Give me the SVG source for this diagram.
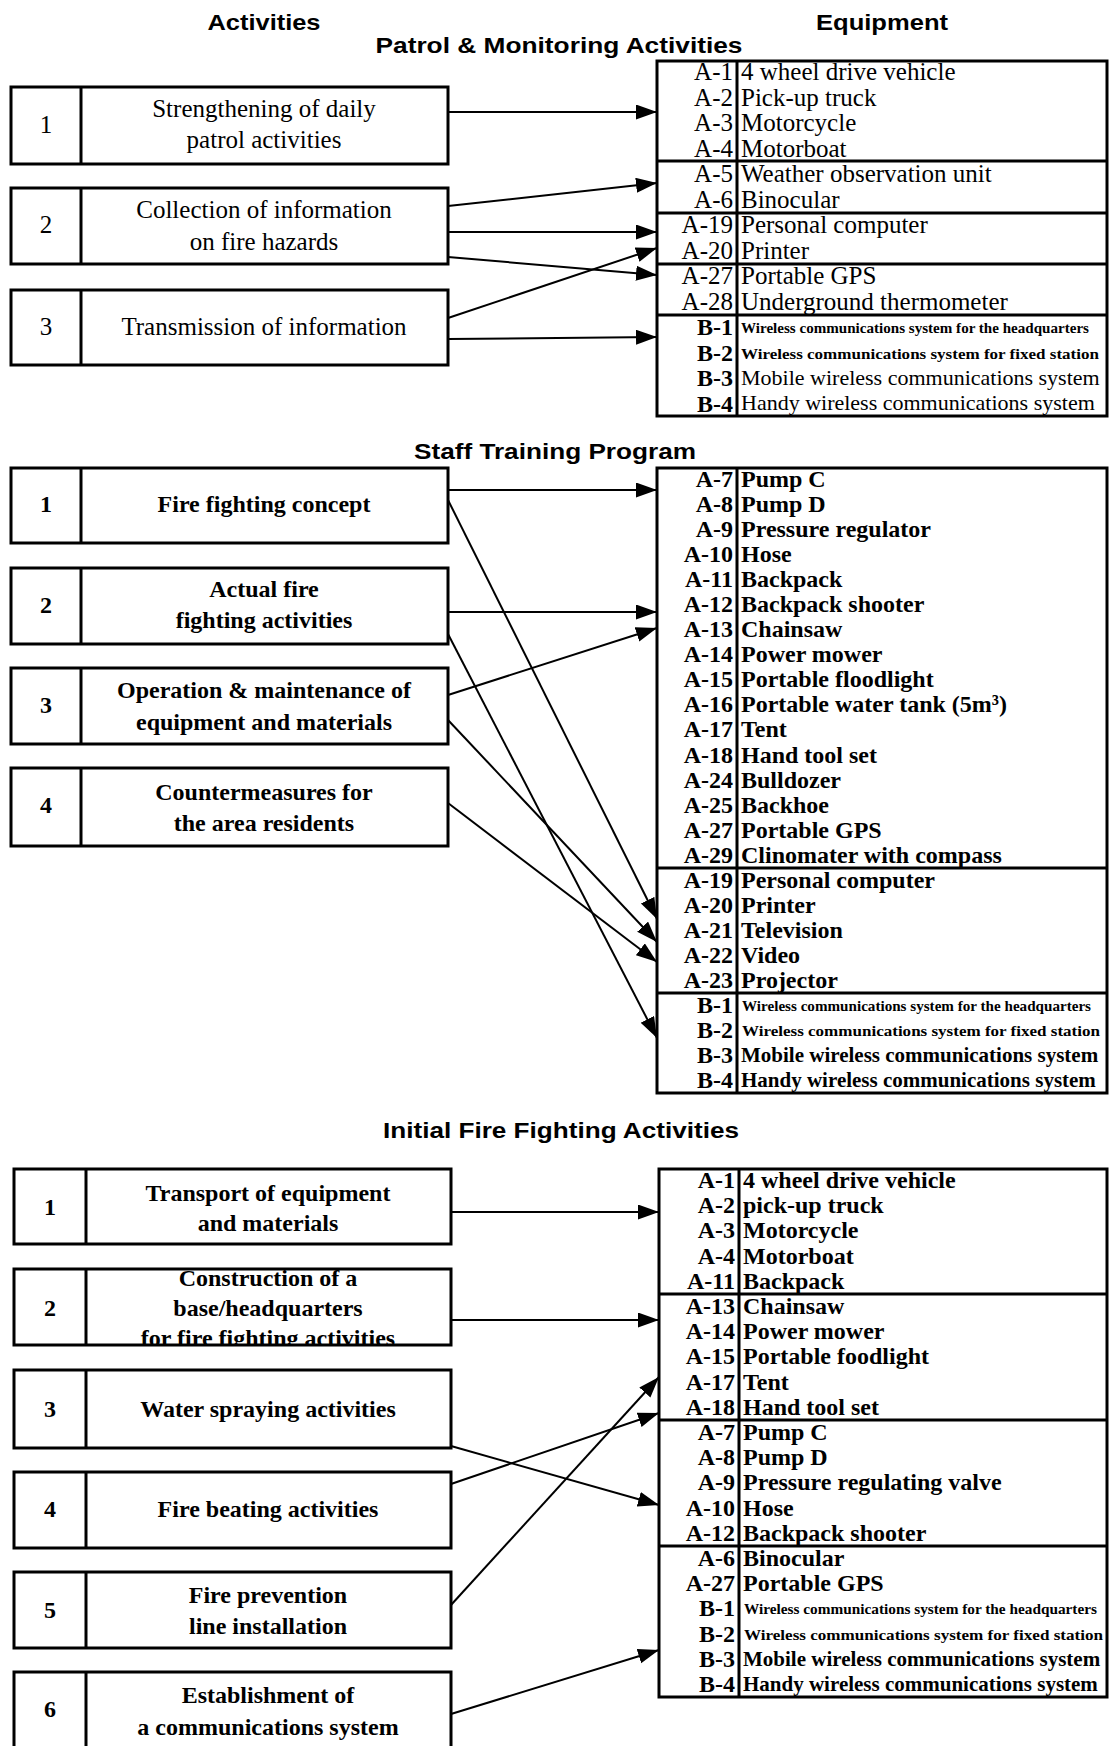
<svg xmlns="http://www.w3.org/2000/svg" width="1109" height="1746" viewBox="0 0 1109 1746">
<style>
.bg{fill:#fff}
.box{fill:#fff;stroke:#000;stroke-width:3}
.div{stroke:#000;stroke-width:3}
.title{font-family:"Liberation Sans",Arial,sans-serif;font-weight:bold;font-size:22px;fill:#000}
.lbl{font-family:"Liberation Serif","Times New Roman",serif;font-size:25px;fill:#000;text-anchor:middle}
.lblb{font-family:"Liberation Serif","Times New Roman",serif;font-size:24px;font-weight:bold;fill:#000;text-anchor:middle}
.code{font-family:"Liberation Serif","Times New Roman",serif;font-size:25px;fill:#000;text-anchor:end}
.codeb{font-family:"Liberation Serif","Times New Roman",serif;font-size:24px;font-weight:bold;fill:#000;text-anchor:end}
.item{font-family:"Liberation Serif","Times New Roman",serif;font-size:25px;fill:#000}
.itemb{font-family:"Liberation Serif","Times New Roman",serif;font-size:24px;font-weight:bold;fill:#000}
.long{font-family:"Liberation Serif","Times New Roman",serif;font-size:22px;fill:#000}
.longb{font-family:"Liberation Serif","Times New Roman",serif;font-size:21px;font-weight:bold;fill:#000}
.small{font-family:"Liberation Serif","Times New Roman",serif;font-size:15px;font-weight:bold;fill:#000}
.conn{stroke:#000;stroke-width:2;fill:none;marker-end:url(#ah)}
</style>
<defs>
<marker id="ah" markerUnits="userSpaceOnUse" markerWidth="22" markerHeight="16" refX="21" refY="7.5" orient="auto">
<path d="M0,0 L21,7.5 L0,15 z" fill="#000"/>
</marker>
<clipPath id="clipS3b2"><rect x="86" y="1270" width="364" height="74"/></clipPath>
</defs>
<rect class="bg" x="0" y="0" width="1109" height="1746"/>

<g id="headers">
<text class="title" x="264" y="30" text-anchor="middle" textLength="113" lengthAdjust="spacingAndGlyphs">Activities</text>
<text class="title" x="882" y="30" text-anchor="middle" textLength="132" lengthAdjust="spacingAndGlyphs">Equipment</text>
<text class="title" x="559" y="53" text-anchor="middle" textLength="367" lengthAdjust="spacingAndGlyphs">Patrol &amp; Monitoring Activities</text>
<text class="title" x="555" y="459" text-anchor="middle" textLength="282" lengthAdjust="spacingAndGlyphs">Staff Training Program</text>
<text class="title" x="561" y="1138" text-anchor="middle" textLength="356" lengthAdjust="spacingAndGlyphs">Initial Fire Fighting Activities</text>
</g>

<!-- Section 1 activities -->
<g id="s1-act1">
<rect class="box" x="11" y="87" width="437" height="77"/><line class="div" x1="81" y1="87" x2="81" y2="164"/>
<text class="lbl" x="46" y="133">1</text>
<text class="lbl" x="264" y="117">Strengthening of daily</text>
<text class="lbl" x="264" y="148">patrol activities</text>
</g>
<g id="s1-act2">
<rect class="box" x="11" y="188" width="437" height="76"/><line class="div" x1="81" y1="188" x2="81" y2="264"/>
<text class="lbl" x="46" y="233">2</text>
<text class="lbl" x="264" y="218">Collection of information</text>
<text class="lbl" x="264" y="250">on fire hazards</text>
</g>
<g id="s1-act3">
<rect class="box" x="11" y="290" width="437" height="75"/><line class="div" x1="81" y1="290" x2="81" y2="365"/>
<text class="lbl" x="46" y="335">3</text>
<text class="lbl" x="264" y="335">Transmission of information</text>
</g>

<g id="s1-equipment">
<rect class="box" x="657" y="61" width="450" height="355"/>
<line class="div" x1="737" y1="61" x2="737" y2="416"/>
<line class="div" x1="657" y1="161" x2="1107" y2="161"/>
<line class="div" x1="657" y1="213" x2="1107" y2="213"/>
<line class="div" x1="657" y1="264" x2="1107" y2="264"/>
<line class="div" x1="657" y1="315" x2="1107" y2="315"/>
<text class="code" x="733" y="80">A-1</text><text class="item" x="741" y="80">4 wheel drive vehicle</text>
<text class="code" x="733" y="105.5">A-2</text><text class="item" x="741" y="105.5">Pick-up truck</text>
<text class="code" x="733" y="131">A-3</text><text class="item" x="741" y="131">Motorcycle</text>
<text class="code" x="733" y="156.5">A-4</text><text class="item" x="741" y="156.5">Motorboat</text>
<text class="code" x="733" y="182">A-5</text><text class="item" x="741" y="182">Weather observation unit</text>
<text class="code" x="733" y="207.5">A-6</text><text class="item" x="741" y="207.5">Binocular</text>
<text class="code" x="733" y="233">A-19</text><text class="item" x="741" y="233">Personal computer</text>
<text class="code" x="733" y="258.5">A-20</text><text class="item" x="741" y="258.5">Printer</text>
<text class="code" x="733" y="284">A-27</text><text class="item" x="741" y="284">Portable GPS</text>
<text class="code" x="733" y="309.5">A-28</text><text class="item" x="741" y="309.5">Underground thermometer</text>
<text class="codeb" x="733" y="335">B-1</text><text class="small" x="741" y="333" textLength="348" lengthAdjust="spacingAndGlyphs">Wireless communications system for the headquarters</text>
<text class="codeb" x="733" y="360.5">B-2</text><text class="small" x="741" y="358.5" textLength="358" lengthAdjust="spacingAndGlyphs">Wireless communications system for fixed station</text>
<text class="codeb" x="733" y="386">B-3</text><text class="long" x="741" y="385">Mobile wireless communications system</text>
<text class="codeb" x="733" y="411.5">B-4</text><text class="long" x="741" y="410">Handy wireless communications system</text>
</g>

<!-- Section 2 activities -->
<g id="s2-act1">
<rect class="box" x="11" y="468" width="437" height="75"/><line class="div" x1="81" y1="468" x2="81" y2="543"/>
<text class="lblb" x="46" y="512">1</text>
<text class="lblb" x="264" y="512">Fire fighting concept</text>
</g>
<g id="s2-act2">
<rect class="box" x="11" y="568" width="437" height="76"/><line class="div" x1="81" y1="568" x2="81" y2="644"/>
<text class="lblb" x="46" y="613">2</text>
<text class="lblb" x="264" y="597">Actual fire</text>
<text class="lblb" x="264" y="628">fighting activities</text>
</g>
<g id="s2-act3">
<rect class="box" x="11" y="668" width="437" height="76"/><line class="div" x1="81" y1="668" x2="81" y2="744"/>
<text class="lblb" x="46" y="713">3</text>
<text class="lblb" x="264" y="698">Operation &amp; maintenance of</text>
<text class="lblb" x="264" y="730">equipment and materials</text>
</g>
<g id="s2-act4">
<rect class="box" x="11" y="768" width="437" height="78"/><line class="div" x1="81" y1="768" x2="81" y2="846"/>
<text class="lblb" x="46" y="813">4</text>
<text class="lblb" x="264" y="800">Countermeasures for</text>
<text class="lblb" x="264" y="831">the area residents</text>
</g>

<g id="s2-equipment">
<rect class="box" x="657" y="468" width="450" height="625"/>
<line class="div" x1="737" y1="468" x2="737" y2="1093"/>
<line class="div" x1="657" y1="868" x2="1107" y2="868"/>
<line class="div" x1="657" y1="993" x2="1107" y2="993"/>
<text class="codeb" x="733" y="487">A-7</text><text class="itemb" x="741" y="487">Pump C</text>
<text class="codeb" x="733" y="512">A-8</text><text class="itemb" x="741" y="512">Pump D</text>
<text class="codeb" x="733" y="537">A-9</text><text class="itemb" x="741" y="537">Pressure regulator</text>
<text class="codeb" x="733" y="562">A-10</text><text class="itemb" x="741" y="562">Hose</text>
<text class="codeb" x="733" y="587">A-11</text><text class="itemb" x="741" y="587">Backpack</text>
<text class="codeb" x="733" y="612">A-12</text><text class="itemb" x="741" y="612">Backpack shooter</text>
<text class="codeb" x="733" y="637">A-13</text><text class="itemb" x="741" y="637">Chainsaw</text>
<text class="codeb" x="733" y="662">A-14</text><text class="itemb" x="741" y="662">Power mower</text>
<text class="codeb" x="733" y="687">A-15</text><text class="itemb" x="741" y="687">Portable floodlight</text>
<text class="codeb" x="733" y="712">A-16</text><text class="itemb" x="741" y="712">Portable water tank (5m³)</text>
<text class="codeb" x="733" y="737">A-17</text><text class="itemb" x="741" y="737">Tent</text>
<text class="codeb" x="733" y="762.5">A-18</text><text class="itemb" x="741" y="762.5">Hand tool set</text>
<text class="codeb" x="733" y="787.5">A-24</text><text class="itemb" x="741" y="787.5">Bulldozer</text>
<text class="codeb" x="733" y="812.5">A-25</text><text class="itemb" x="741" y="812.5">Backhoe</text>
<text class="codeb" x="733" y="837.5">A-27</text><text class="itemb" x="741" y="837.5">Portable GPS</text>
<text class="codeb" x="733" y="862.5">A-29</text><text class="itemb" x="741" y="862.5">Clinomater with compass</text>
<text class="codeb" x="733" y="887.5">A-19</text><text class="itemb" x="741" y="887.5">Personal computer</text>
<text class="codeb" x="733" y="912.5">A-20</text><text class="itemb" x="741" y="912.5">Printer</text>
<text class="codeb" x="733" y="937.5">A-21</text><text class="itemb" x="741" y="937.5">Television</text>
<text class="codeb" x="733" y="962.5">A-22</text><text class="itemb" x="741" y="962.5">Video</text>
<text class="codeb" x="733" y="988">A-23</text><text class="itemb" x="741" y="988">Projector</text>
<text class="codeb" x="733" y="1013">B-1</text><text class="small" x="742" y="1011" textLength="349" lengthAdjust="spacingAndGlyphs">Wireless communications system for the headquarters</text>
<text class="codeb" x="733" y="1038">B-2</text><text class="small" x="742" y="1036" textLength="358" lengthAdjust="spacingAndGlyphs">Wireless communications system for fixed station</text>
<text class="codeb" x="733" y="1063">B-3</text><text class="longb" x="741" y="1062">Mobile wireless communications system</text>
<text class="codeb" x="733" y="1088">B-4</text><text class="longb" x="741" y="1087">Handy wireless communications system</text>
</g>

<!-- Section 3 activities -->
<g id="s3-act1">
<rect class="box" x="14" y="1169" width="437" height="75"/><line class="div" x1="86" y1="1169" x2="86" y2="1244"/>
<text class="lblb" x="50" y="1215">1</text>
<text class="lblb" x="268" y="1201">Transport of equipment</text>
<text class="lblb" x="268" y="1231">and materials</text>
</g>
<g id="s3-act2">
<g clip-path="url(#clipS3b2)">
<text class="lblb" x="268" y="1286">Construction of a</text>
<text class="lblb" x="268" y="1316">base/headquarters</text>
<text class="lblb" x="268" y="1346">for fire fighting activities</text>
</g>
<rect class="box" x="14" y="1269" width="437" height="76" style="fill:none"/><line class="div" x1="86" y1="1269" x2="86" y2="1345"/>
<text class="lblb" x="50" y="1316">2</text>
</g>
<g id="s3-act3">
<rect class="box" x="14" y="1370" width="437" height="78"/><line class="div" x1="86" y1="1370" x2="86" y2="1448"/>
<text class="lblb" x="50" y="1417">3</text>
<text class="lblb" x="268" y="1417">Water spraying activities</text>
</g>
<g id="s3-act4">
<rect class="box" x="14" y="1472" width="437" height="76"/><line class="div" x1="86" y1="1472" x2="86" y2="1548"/>
<text class="lblb" x="50" y="1517">4</text>
<text class="lblb" x="268" y="1517">Fire beating activities</text>
</g>
<g id="s3-act5">
<rect class="box" x="14" y="1572" width="437" height="76"/><line class="div" x1="86" y1="1572" x2="86" y2="1648"/>
<text class="lblb" x="50" y="1618">5</text>
<text class="lblb" x="268" y="1603">Fire prevention</text>
<text class="lblb" x="268" y="1634">line installation</text>
</g>
<g id="s3-act6">
<rect class="box" x="14" y="1672" width="437" height="100"/><line class="div" x1="86" y1="1672" x2="86" y2="1760"/>
<text class="lblb" x="50" y="1717">6</text>
<text class="lblb" x="268" y="1703">Establishment of</text>
<text class="lblb" x="268" y="1735">a communications system</text>
</g>

<g id="s3-equipment">
<rect class="box" x="659" y="1169" width="448" height="528"/>
<line class="div" x1="739" y1="1169" x2="739" y2="1697"/>
<line class="div" x1="659" y1="1294" x2="1107" y2="1294"/>
<line class="div" x1="659" y1="1420" x2="1107" y2="1420"/>
<line class="div" x1="659" y1="1546" x2="1107" y2="1546"/>
<text class="codeb" x="735" y="1188">A-1</text><text class="itemb" x="743" y="1188">4 wheel drive vehicle</text>
<text class="codeb" x="735" y="1213">A-2</text><text class="itemb" x="743" y="1213">pick-up truck</text>
<text class="codeb" x="735" y="1238">A-3</text><text class="itemb" x="743" y="1238">Motorcycle</text>
<text class="codeb" x="735" y="1264">A-4</text><text class="itemb" x="743" y="1264">Motorboat</text>
<text class="codeb" x="735" y="1289">A-11</text><text class="itemb" x="743" y="1289">Backpack</text>
<text class="codeb" x="735" y="1314">A-13</text><text class="itemb" x="743" y="1314">Chainsaw</text>
<text class="codeb" x="735" y="1339">A-14</text><text class="itemb" x="743" y="1339">Power mower</text>
<text class="codeb" x="735" y="1364">A-15</text><text class="itemb" x="743" y="1364">Portable foodlight</text>
<text class="codeb" x="735" y="1390">A-17</text><text class="itemb" x="743" y="1390">Tent</text>
<text class="codeb" x="735" y="1415">A-18</text><text class="itemb" x="743" y="1415">Hand tool set</text>
<text class="codeb" x="735" y="1440">A-7</text><text class="itemb" x="743" y="1440">Pump C</text>
<text class="codeb" x="735" y="1465">A-8</text><text class="itemb" x="743" y="1465">Pump D</text>
<text class="codeb" x="735" y="1490">A-9</text><text class="itemb" x="743" y="1490">Pressure regulating valve</text>
<text class="codeb" x="735" y="1516">A-10</text><text class="itemb" x="743" y="1516">Hose</text>
<text class="codeb" x="735" y="1541">A-12</text><text class="itemb" x="743" y="1541">Backpack shooter</text>
<text class="codeb" x="735" y="1566">A-6</text><text class="itemb" x="743" y="1566">Binocular</text>
<text class="codeb" x="735" y="1591">A-27</text><text class="itemb" x="743" y="1591">Portable GPS</text>
<text class="codeb" x="735" y="1616">B-1</text><text class="small" x="744" y="1614" textLength="353" lengthAdjust="spacingAndGlyphs">Wireless communications system for the headquarters</text>
<text class="codeb" x="735" y="1642">B-2</text><text class="small" x="744" y="1640" textLength="359" lengthAdjust="spacingAndGlyphs">Wireless communications system for fixed station</text>
<text class="codeb" x="735" y="1667">B-3</text><text class="longb" x="743" y="1666">Mobile wireless communications system</text>
<text class="codeb" x="735" y="1692">B-4</text><text class="longb" x="743" y="1691">Handy wireless communications system</text>
</g>

<g id="connectors">
<line class="conn" x1="448" y1="112" x2="657" y2="112"/>
<line class="conn" x1="448" y1="206" x2="657" y2="183"/>
<line class="conn" x1="448" y1="232" x2="657" y2="232"/>
<line class="conn" x1="448" y1="257" x2="657" y2="275"/>
<line class="conn" x1="448" y1="318" x2="657" y2="248"/>
<line class="conn" x1="448" y1="339" x2="657" y2="337"/>

<line class="conn" x1="448" y1="490" x2="657" y2="490"/>
<line class="conn" x1="448" y1="612" x2="657" y2="612"/>
<line class="conn" x1="448" y1="695" x2="657" y2="628"/>
<line class="conn" x1="448" y1="500" x2="657" y2="919"/>
<line class="conn" x1="448" y1="634" x2="657" y2="1038"/>
<line class="conn" x1="448" y1="720" x2="657" y2="942"/>
<line class="conn" x1="448" y1="803" x2="657" y2="962"/>

<line class="conn" x1="451" y1="1212" x2="659" y2="1212"/>
<line class="conn" x1="451" y1="1320" x2="659" y2="1320"/>
<line class="conn" x1="451" y1="1446" x2="659" y2="1505"/>
<line class="conn" x1="451" y1="1484" x2="659" y2="1413"/>
<line class="conn" x1="451" y1="1605" x2="659" y2="1377"/>
<line class="conn" x1="451" y1="1714" x2="659" y2="1650"/>
</g>
</svg>
